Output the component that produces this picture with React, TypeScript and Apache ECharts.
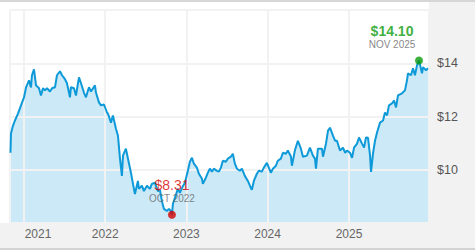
import React, { useEffect, useRef } from "react";
import * as echarts from "echarts";

// Dates as decimal years
const dates: number[] = [
  2020.834, 2020.84, 2020.865, 2020.889, 2020.926, 2020.963, 2021.0, 2021.025, 2021.062, 2021.086,
  2021.098, 2021.123, 2021.148, 2021.185, 2021.209, 2021.234, 2021.258, 2021.283, 2021.32, 2021.345,
  2021.382, 2021.406, 2021.443, 2021.468, 2021.505, 2021.529, 2021.566, 2021.578, 2021.615, 2021.64,
  2021.677, 2021.702, 2021.738, 2021.763, 2021.8, 2021.825, 2021.874, 2021.886, 2021.923, 2021.948,
  2021.985, 2022.022, 2022.034, 2022.071, 2022.095, 2022.132, 2022.157, 2022.182, 2022.206, 2022.219,
  2022.255, 2022.28, 2022.317, 2022.342, 2022.366, 2022.403, 2022.415, 2022.452, 2022.477, 2022.514,
  2022.551, 2022.575, 2022.612, 2022.649, 2022.674, 2022.698, 2022.723, 2022.76, 2022.785, 2022.809,
  2022.822, 2022.834, 2022.858, 2022.895, 2022.92, 2022.945, 2022.982, 2023.018, 2023.043, 2023.068,
  2023.092, 2023.129, 2023.154, 2023.191, 2023.203, 2023.24, 2023.265, 2023.289, 2023.314, 2023.338,
  2023.375, 2023.4, 2023.425, 2023.449, 2023.486, 2023.511, 2023.548, 2023.572, 2023.597, 2023.622,
  2023.658, 2023.683, 2023.72, 2023.757, 2023.782, 2023.806, 2023.831, 2023.868, 2023.892, 2023.929,
  2023.954, 2023.991, 2024.015, 2024.04, 2024.065, 2024.102, 2024.126, 2024.163, 2024.188, 2024.225,
  2024.249, 2024.286, 2024.299, 2024.335, 2024.372, 2024.409, 2024.434, 2024.483, 2024.52, 2024.557,
  2024.582, 2024.594, 2024.618, 2024.668, 2024.68, 2024.717, 2024.742, 2024.766, 2024.803, 2024.828,
  2024.852, 2024.889, 2024.926, 2024.951, 2024.975, 2025.012, 2025.037, 2025.062, 2025.099, 2025.123,
  2025.16, 2025.185, 2025.209, 2025.234, 2025.259, 2025.271, 2025.295, 2025.32, 2025.345, 2025.382,
  2025.419, 2025.443, 2025.468, 2025.492, 2025.529, 2025.554, 2025.579, 2025.603, 2025.652, 2025.689,
  2025.714, 2025.726, 2025.763, 2025.788, 2025.812, 2025.837, 2025.862, 2025.899, 2025.911, 2025.948,
  2025.972,
];

const prices: number[] = [
  10.64, 11.36, 11.66, 11.85, 12.11, 12.42, 12.72, 13.09, 13.36, 13.09,
  13.55, 13.77, 13.17, 13.06, 12.79, 13.06, 12.98, 13.06, 12.94, 13.06,
  13.1, 13.55, 13.7, 13.55, 13.4, 13.25, 12.72, 13.1, 13.06, 12.79,
  13.47, 13.25, 12.9, 12.72, 13.1, 12.94, 13.17, 12.9, 12.53, 12.42,
  12.45, 12.15, 12.11, 11.77, 12.04, 11.55, 11.28, 10.42, 9.77, 10.53,
  10.79, 10.42, 9.89, 9.47, 9.09, 9.58, 9.28, 9.4, 9.2, 9.4,
  9.28, 9.47, 9.51, 9.2, 9.25, 8.83, 8.53, 8.45, 8.53, 8.45,
  8.31, 8.72, 8.94, 9.28, 9.13, 9.32, 9.51, 9.96, 10.3, 10.45,
  10.23, 10.08, 9.85, 9.66, 9.47, 9.7, 9.89, 10.04, 9.93, 10.04,
  9.96, 9.93, 10.08, 10.34, 10.3, 10.42, 10.49, 10.6, 10.23, 10.04,
  9.96, 10.04, 9.77, 9.58, 9.4, 9.25, 9.58, 9.85, 9.96, 9.93,
  10.08, 10.26, 10.08, 9.89, 10.04, 10.15, 10.34, 10.42, 10.64, 10.6,
  10.72, 10.5, 10.15, 10.72, 11.09, 10.79, 10.49, 10.53, 10.83, 10.53,
  10.42, 10.04, 10.79, 10.79, 10.49, 10.98, 11.47, 11.58, 11.28, 11.09,
  11.09, 10.72, 10.83, 10.64, 10.72, 10.64, 10.45, 10.83, 10.98, 11.21,
  10.98, 10.83, 11.21, 11.2, 10.53, 9.92, 10.6, 11.09, 11.4, 11.77,
  11.85, 12.15, 12.04, 12.42, 12.49, 12.6, 12.34, 12.79, 12.87, 12.98,
  13.36, 13.62, 13.55, 13.81, 13.55, 13.92, 14.1, 13.62, 13.85, 13.74,
  13.81,
];

const lowPoint = { date: 2022.822, value: 8.31, label: "$8.31", month: "OCT 2022" };
const highPoint = { date: 2025.862, value: 14.1, label: "$14.10", month: "NOV 2025" };

const axisStart = 2020.828;
const axisEnd = 2025.985;
const yMin = 8;
const yMax = 16;
const yStep = 2;
const hiddenYLabels = [8, 16];

function toTime(d: number): number {
  const y = Math.floor(d);
  const a = Date.UTC(y, 0, 1);
  const b = Date.UTC(y + 1, 0, 1);
  return a + (d - y) * (b - a);
}

const FONT = "'Liberation Sans', Arial, sans-serif";

export default function App() {
  const ref = useRef<HTMLDivElement>(null);

  useEffect(() => {
    if (!ref.current) return;
    const chart = echarts.init(ref.current, undefined, { renderer: "svg" });
    const lineData = dates.map((d, i) => [toTime(d), prices[i]]);
    const ONE_YEAR = 365 * 24 * 3600 * 1000;

    chart.setOption({
      animation: false,
      useUTC: true,
      textStyle: { fontFamily: FONT },
      graphic: [
        { type: "rect", shape: { x: 0, y: 0, width: 475, height: 2 }, style: { fill: "#d6d6d6" }, silent: true },
        { type: "rect", shape: { x: 429, y: 2, width: 46, height: 246 }, style: { fill: "#f2f2f2" }, silent: true },
        { type: "rect", shape: { x: 0, y: 223, width: 475, height: 25 }, style: { fill: "#f2f2f2" }, silent: true },
        { type: "rect", shape: { x: 0, y: 248, width: 475, height: 2 }, style: { fill: "#d3d3d3" }, silent: true },
      ],
      grid: { left: 10, right: 46, top: 10, bottom: 27, outerBoundsMode: "none", containLabel: false },
      xAxis: {
        type: "time",
        min: toTime(axisStart),
        max: toTime(axisEnd),
        minInterval: ONE_YEAR,
        maxInterval: ONE_YEAR,
        z: 2,
        axisLine: { show: false },
        axisTick: { show: false },
        splitLine: { show: true, lineStyle: { color: "#f2f2f2", width: 2 } },
        axisLabel: {
          color: "#666",
          fontSize: 12,
          fontFamily: FONT,
          margin: 5,
          formatter: (v: number) => {
            const y = new Date(v).getUTCFullYear();
            return y === 2021 ? "{s|" + y + "}" : String(y);
          },
          rich: {
            s: { padding: [0, 0, 0, 28], color: "#666", fontSize: 12, fontFamily: FONT },
          },
        },
      },
      yAxis: {
        type: "value",
        position: "right",
        min: yMin,
        max: yMax,
        interval: yStep,
        z: 2,
        axisLine: { show: false },
        axisTick: { show: false },
        splitLine: { show: true, lineStyle: { color: "#f2f2f2", width: 2 } },
        axisLabel: {
          color: "#555",
          fontSize: 12.5,
          fontFamily: FONT,
          margin: 8,
          formatter: (v: number) => (hiddenYLabels.includes(v) ? "" : "$" + v),
        },
      },
      series: [
        {
          type: "line",
          data: lineData,
          z: 1,
          symbol: "none",
          lineStyle: { width: 0, opacity: 0 },
          areaStyle: { color: "#cbe9f7", opacity: 1 },
          silent: true,
        },
        {
          type: "line",
          data: lineData,
          z: 3,
          symbol: "none",
          lineStyle: { width: 2, color: "#0e9ad9" },
          silent: true,
        },
        {
          type: "scatter",
          z: 4,
          symbolSize: 8,
          silent: true,
          data: [
            {
              value: [toTime(lowPoint.date), lowPoint.value],
              itemStyle: { color: "#d40000" },
              label: {
                show: true,
                position: "top",
                distance: 6,
                align: "center",
                formatter: "{v|" + lowPoint.label + "}\n{d|" + lowPoint.month + "}",
                rich: {
                  v: { fontSize: 14, color: "#d40000", lineHeight: 14, fontFamily: FONT, align: "center" },
                  d: { fontSize: 10, color: "#666", lineHeight: 13, fontFamily: FONT, align: "center" },
                },
              },
            },
            {
              value: [toTime(highPoint.date), highPoint.value],
              itemStyle: { color: "#0a9a0a" },
              label: {
                show: true,
                position: "top",
                distance: 6,
                offset: [-27, 0],
                formatter: "{v|" + highPoint.label + "}\n{d|" + highPoint.month + "}",
                rich: {
                  v: { fontSize: 14, fontWeight: "bold", color: "#0a9a0a", lineHeight: 14, fontFamily: FONT, align: "center" },
                  d: { fontSize: 10, color: "#666", lineHeight: 13, fontFamily: FONT, align: "center" },
                },
              },
            },
          ],
        },
      ],
    });
    return () => chart.dispose();
  }, []);

  return (
    <div
      ref={ref}
      style={{ position: "fixed", left: 0, top: 0, width: 475, height: 250, background: "#fff" }}
    />
  );
}
